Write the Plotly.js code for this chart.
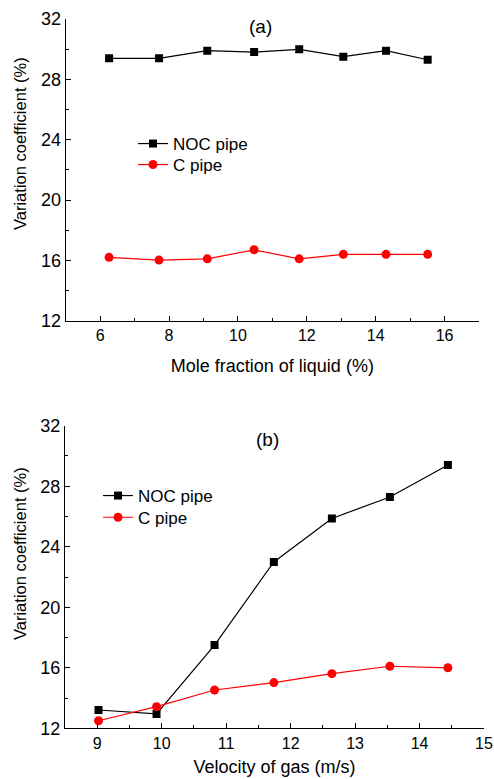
<!DOCTYPE html>
<html>
<head>
<meta charset="utf-8">
<script src="https://cdn.plot.ly/plotly-3.0.1.min.js"></script>
<style>html,body{margin:0;padding:0;background:#fff;}#plot{width:494px;height:779px;}</style>
</head>
<body>
<div id="plot"></div>
<script>
// Panel (a): mole fraction of liquid (%)
const xA = [6.26, 7.71, 9.11, 10.47, 11.78, 13.06, 14.3, 15.51];
const nocA = [29.39, 29.39, 29.9, 29.81, 29.99, 29.5, 29.9, 29.3];
const cA = [16.2, 16.02, 16.1, 16.7, 16.1, 16.4, 16.4, 16.4];
// Panel (b): velocity of gas (m/s)
const xB = [9.02, 9.92, 10.82, 11.74, 12.64, 13.54, 14.44];
const nocB = [13.21, 12.95, 17.5, 22.99, 25.87, 27.29, 29.4];
const cB = [12.5, 13.43, 14.53, 15.02, 15.61, 16.1, 16.0];

const seriesNames = ['NOC pipe', 'C pipe'];
const panelLabels = ['(a)', '(b)'];
const xTitles = ['Mole fraction of liquid (%)', 'Velocity of gas (m/s)'];
const yTitle = 'Variation coefficient (%)';

const W = 494, H = 779;
const FONT = 'Liberation Sans, Arial, sans-serif';
const px = v => v / W;
const py = v => 1 - v / H;

const blackStyle = {color: '#000000', width: 1.2};
const redStyle = {color: '#ff0000', width: 1.2};

const traces = [
  {x: xA, y: nocA, name: seriesNames[0], type: 'scatter', mode: 'lines+markers', xaxis: 'x', yaxis: 'y', legend: 'legend',
   line: blackStyle, marker: {symbol: 'square', size: 8, color: '#000000'}},
  {x: xA, y: cA, name: seriesNames[1], type: 'scatter', mode: 'lines+markers', xaxis: 'x', yaxis: 'y', legend: 'legend2',
   line: redStyle, marker: {symbol: 'circle', size: 9, color: '#ff0000'}},
  {x: xB, y: nocB, name: seriesNames[0], type: 'scatter', mode: 'lines+markers', xaxis: 'x2', yaxis: 'y2', legend: 'legend3',
   line: blackStyle, marker: {symbol: 'square', size: 8, color: '#000000'}},
  {x: xB, y: cB, name: seriesNames[1], type: 'scatter', mode: 'lines+markers', xaxis: 'x2', yaxis: 'y2', legend: 'legend4',
   line: redStyle, marker: {symbol: 'circle', size: 9, color: '#ff0000'}}
];

const axBase = {
  showline: true, linecolor: '#000', linewidth: 1, mirror: false,
  showgrid: false, zeroline: false,
  ticks: 'inside', ticklen: 5, tickwidth: 1, tickcolor: '#000',
  tickfont: {family: FONT, size: 16, color: '#000'},
  minor: {ticks: 'inside', ticklen: 3, tickwidth: 1, tickcolor: '#000', showgrid: false}
};
const yTickFont = {family: FONT, size: 18, color: '#000'};
const titleFont = {family: FONT, size: 18, color: '#000'};

function leg(x, y) {
  return {x: px(x), y: py(y), xanchor: 'left', yanchor: 'middle', bgcolor: 'rgba(0,0,0,0)',
    font: {family: FONT, size: 17, color: '#000'}, itemwidth: 30};
}

const layout = {
  width: W, height: H,
  margin: {l: 0, r: 0, t: 0, b: 0},
  paper_bgcolor: '#fff', plot_bgcolor: '#fff',
  font: {family: FONT, color: '#000'},
  showlegend: true,
  xaxis: Object.assign({}, axBase, {
    domain: [px(65.7), px(479)], range: [5, 17], anchor: 'y',
    tickmode: 'linear', tick0: 6, dtick: 2, minor: Object.assign({}, axBase.minor, {dtick: 1}),
    title: {text: xTitles[0], font: titleFont, standoff: 16}
  }),
  yaxis: Object.assign({}, axBase, {
    domain: [py(320.7), py(19)], range: [12, 32], anchor: 'x', tickfont: yTickFont,
    tickmode: 'linear', tick0: 12, dtick: 4, minor: Object.assign({}, axBase.minor, {dtick: 2})
  }),
  xaxis2: Object.assign({}, axBase, {
    domain: [px(65), px(484)], range: [8.5, 15], anchor: 'y2',
    tickmode: 'linear', tick0: 9, dtick: 1, minor: Object.assign({}, axBase.minor, {dtick: 0.5}),
    title: {text: xTitles[1], font: titleFont, standoff: 9}
  }),
  yaxis2: Object.assign({}, axBase, {
    domain: [py(728.3), py(425.7)], range: [12, 32], anchor: 'x2', tickfont: yTickFont,
    tickmode: 'linear', tick0: 12, dtick: 4, minor: Object.assign({}, axBase.minor, {dtick: 2})
  }),
  legend: leg(133, 144),
  legend2: leg(133, 165),
  legend3: leg(98, 496),
  legend4: leg(98, 517.7),
  annotations: [
    {text: panelLabels[0], xref: 'paper', yref: 'paper', x: px(260), y: py(27), xanchor: 'center', yanchor: 'middle',
     showarrow: false, font: {family: FONT, size: 19, color: '#000'}},
    {text: panelLabels[1], xref: 'paper', yref: 'paper', x: px(267), y: py(440), xanchor: 'center', yanchor: 'middle',
     showarrow: false, font: {family: FONT, size: 19, color: '#000'}},
    {text: yTitle, xref: 'paper', yref: 'paper', x: px(20), y: py(144), xanchor: 'center', yanchor: 'middle',
     textangle: -90, showarrow: false, font: {family: FONT, size: 16.5, color: '#000'}},
    {text: yTitle, xref: 'paper', yref: 'paper', x: px(20), y: py(554), xanchor: 'center', yanchor: 'middle',
     textangle: -90, showarrow: false, font: {family: FONT, size: 16.5, color: '#000'}}
  ]
};

Plotly.newPlot('plot', traces, layout, {displayModeBar: false, staticPlot: true});
</script>
</body>
</html>
